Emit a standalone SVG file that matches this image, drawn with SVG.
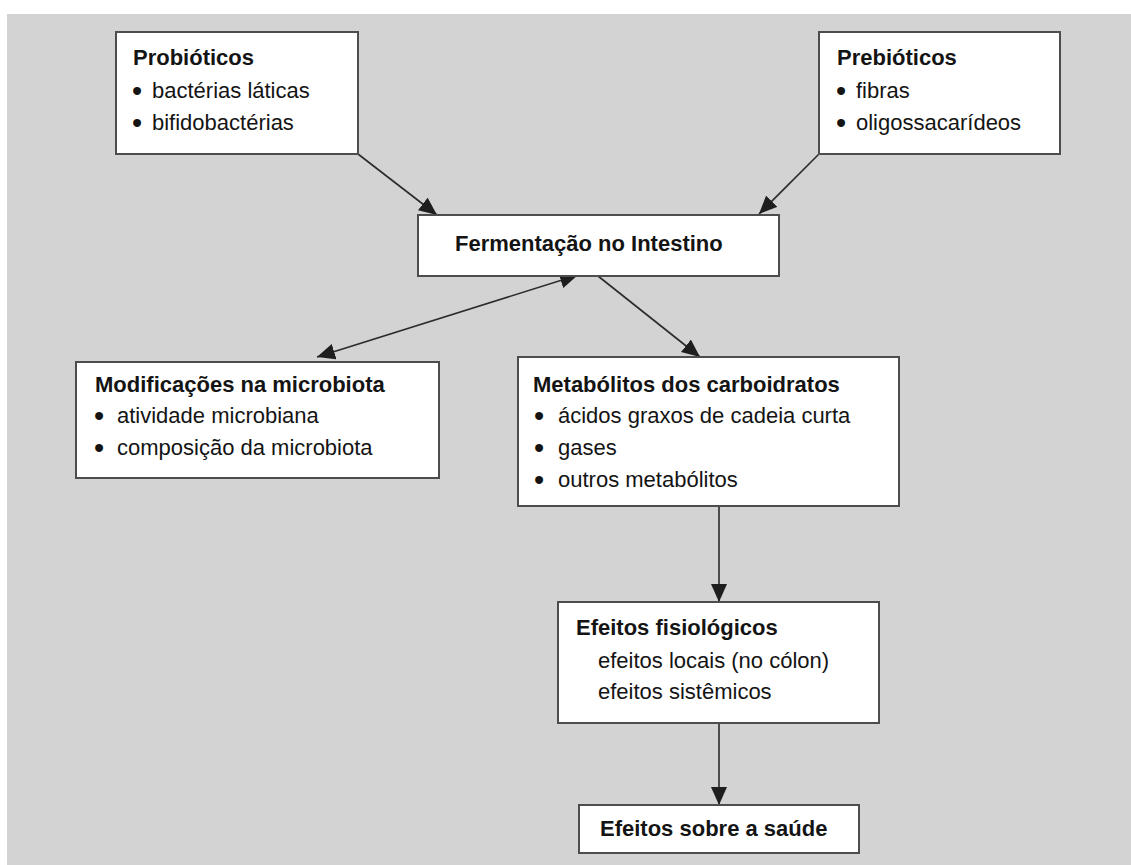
<svg xmlns="http://www.w3.org/2000/svg" width="1131" height="865" viewBox="0 0 1131 865">
<style>
.box{fill:#fff;stroke:#4d4d4d;stroke-width:2}
.t{font-family:"Liberation Sans",Arial,sans-serif;font-size:22px;fill:#141414}
.b{font-weight:bold}
.d{font-family:"Liberation Sans",Arial,sans-serif;font-size:29px;fill:#141414}
.c{stroke:#2b2b2b;stroke-width:1.6;fill:none}
</style>
<defs>
<marker id="ah" viewBox="0 0 18 16" refX="18" refY="8" markerWidth="18" markerHeight="16" markerUnits="userSpaceOnUse" orient="auto-start-reverse">
<path d="M0,0 L18,8 L0,16 z" fill="#1e1e1e"/>
</marker>
</defs>
<rect x="0" y="0" width="1131" height="865" fill="#fff"/>
<rect x="7" y="14" width="1124" height="851" fill="#d3d3d3"/>
<g id="connectors">
<line class="c" x1="358" y1="154" x2="437" y2="215" marker-end="url(#ah)"/>
<line class="c" x1="819" y1="154" x2="759" y2="214" marker-end="url(#ah)"/>
<line class="c" x1="317" y1="357" x2="578" y2="275" marker-start="url(#ah)" marker-end="url(#ah)"/>
<line class="c" x1="598" y1="276" x2="700" y2="357" marker-end="url(#ah)"/>
<line class="c" x1="719" y1="506" x2="719" y2="602" marker-end="url(#ah)"/>
<line class="c" x1="719" y1="723" x2="719" y2="805" marker-end="url(#ah)"/>
</g>
<g id="probioticos">
<rect class="box" x="116" y="32" width="242" height="122"/>
<text class="t b" x="133" y="65">Probióticos</text>
<text class="d" x="132" y="100.5">•</text><text class="t" x="152" y="98">bactérias láticas</text>
<text class="d" x="132" y="132.5">•</text><text class="t" x="152" y="130">bifidobactérias</text>
</g>
<g id="prebioticos">
<rect class="box" x="819" y="32" width="241" height="122"/>
<text class="t b" x="837" y="65">Prebióticos</text>
<text class="d" x="836" y="100.5">•</text><text class="t" x="856" y="98">fibras</text>
<text class="d" x="836" y="132.5">•</text><text class="t" x="856" y="130">oligossacarídeos</text>
</g>
<g id="fermentacao">
<rect class="box" x="418" y="215" width="361" height="61"/>
<text class="t b" x="455" y="251">Fermentação no Intestino</text>
</g>
<g id="modificacoes">
<rect class="box" x="76" y="362" width="363" height="116"/>
<text class="t b" x="95" y="392">Modificações na microbiota</text>
<text class="d" x="94" y="425.5">•</text><text class="t" x="117" y="423">atividade microbiana</text>
<text class="d" x="94" y="457.5">•</text><text class="t" x="117" y="455">composição da microbiota</text>
</g>
<g id="metabolitos">
<rect class="box" x="518" y="357" width="381" height="149"/>
<text class="t b" x="533" y="392">Metabólitos dos carboidratos</text>
<text class="d" x="534" y="425.5">•</text><text class="t" x="558" y="423">ácidos graxos de cadeia curta</text>
<text class="d" x="534" y="457.5">•</text><text class="t" x="558" y="455">gases</text>
<text class="d" x="534" y="489.5">•</text><text class="t" x="558" y="487">outros metabólitos</text>
</g>
<g id="efeitos-fisiologicos">
<rect class="box" x="558" y="602" width="321" height="121"/>
<text class="t b" x="576" y="635">Efeitos fisiológicos</text>
<text class="t" x="598" y="668">efeitos locais (no cólon)</text>
<text class="t" x="598" y="699">efeitos sistêmicos</text>
</g>
<g id="efeitos-saude">
<rect class="box" x="579" y="805" width="280" height="48"/>
<text class="t b" x="600" y="836">Efeitos sobre a saúde</text>
</g>
</svg>
